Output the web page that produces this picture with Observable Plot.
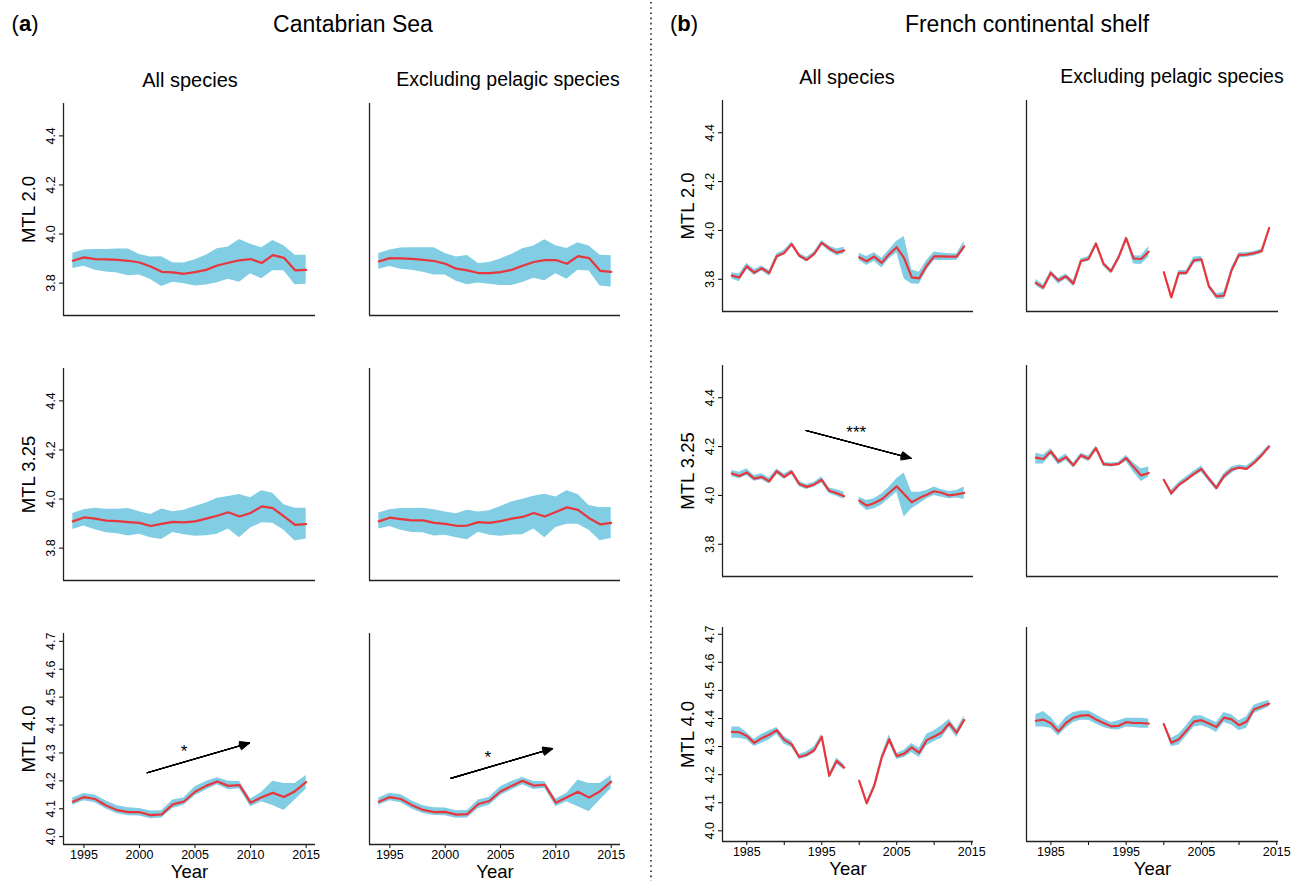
<!DOCTYPE html>
<html><head><meta charset="utf-8">
<script src="https://cdn.jsdelivr.net/npm/d3@7"></script>
<script src="https://cdn.jsdelivr.net/npm/@observablehq/plot@0.6"></script>
<style>
body{margin:0;background:#fff;font-family:"Liberation Sans",Arial,Helvetica,sans-serif;}
#fig{position:relative;width:1298px;height:881px;overflow:hidden;background:#fff;}
.t{position:absolute;white-space:nowrap;color:#000;transform:translate(-50%,-50%);line-height:1;}
.panel{position:absolute;}
</style></head><body><div id="fig"></div>
<script>
// ---------- categories / ticks ----------
const yearsA = [1994,1995,1996,1997,1998,1999,2000,2001,2002,2003,2004,2005,2006,2007,2008,2009,2010,2011,2012,2013,2014,2015];
const yearsB = [1983,1984,1985,1986,1987,1988,1989,1990,1991,1992,1993,1994,1995,1996,1997,1998,1999,2000,2001,2002,2003,2004,2005,2006,2007,2008,2009,2010,2011,2012,2013,2014];
const xTicksA = [1995,2000,2005,2010,2015];
const xTicksB = [1985,1990,1995,2000,2005,2010,2015];
const xLabelsB = [1985,1995,2005,2015];
const yTicksLow = [3.8,4.0,4.2,4.4];
const yTicksHigh = [4.0,4.1,4.2,4.3,4.4,4.5,4.6,4.7];
const rowLabels = ["MTL 2.0","MTL 3.25","MTL 4.0"];

// ---------- (a) Cantabrian Sea ----------
const a_all_20_mid = [3.891,3.905,3.898,3.897,3.895,3.891,3.884,3.868,3.846,3.844,3.838,3.845,3.854,3.872,3.883,3.893,3.898,3.882,3.914,3.903,3.852,3.854];
const a_all_20_hi  = [3.922,3.935,3.937,3.937,3.939,3.939,3.917,3.906,3.907,3.883,3.882,3.895,3.914,3.940,3.947,3.978,3.958,3.944,3.974,3.952,3.914,3.914];
const a_all_20_lo  = [3.860,3.869,3.852,3.845,3.841,3.830,3.833,3.815,3.786,3.804,3.797,3.788,3.792,3.801,3.816,3.804,3.838,3.818,3.850,3.850,3.793,3.795];

const a_exc_20_mid = [3.888,3.902,3.901,3.899,3.895,3.890,3.879,3.859,3.852,3.841,3.841,3.845,3.854,3.871,3.886,3.894,3.894,3.879,3.910,3.902,3.850,3.846];
const a_exc_20_hi  = [3.921,3.935,3.943,3.944,3.944,3.944,3.921,3.906,3.913,3.880,3.884,3.898,3.917,3.940,3.951,3.977,3.952,3.941,3.965,3.951,3.914,3.912];
const a_exc_20_lo  = [3.857,3.868,3.856,3.852,3.844,3.833,3.833,3.808,3.793,3.800,3.795,3.790,3.790,3.803,3.820,3.810,3.838,3.816,3.852,3.849,3.788,3.784];

const a_all_325_mid = [3.909,3.925,3.920,3.912,3.910,3.906,3.903,3.890,3.899,3.907,3.905,3.909,3.920,3.932,3.946,3.929,3.943,3.970,3.963,3.929,3.895,3.898];
const a_all_325_hi  = [3.941,3.956,3.962,3.958,3.958,3.961,3.948,3.937,3.959,3.948,3.954,3.970,3.984,4.003,4.010,4.018,4.005,4.034,4.024,3.977,3.962,3.962];
const a_all_325_lo  = [3.876,3.890,3.875,3.863,3.859,3.849,3.857,3.842,3.835,3.864,3.854,3.848,3.850,3.856,3.878,3.842,3.882,3.903,3.901,3.873,3.829,3.837];

const a_exc_325_mid = [3.909,3.924,3.918,3.913,3.913,3.903,3.899,3.891,3.892,3.906,3.903,3.910,3.920,3.927,3.943,3.929,3.947,3.966,3.956,3.922,3.897,3.903];
const a_exc_325_hi  = [3.943,3.956,3.961,3.961,3.962,3.956,3.947,3.940,3.954,3.947,3.952,3.970,3.988,3.999,4.011,4.020,4.008,4.034,4.018,3.974,3.965,3.966];
const a_exc_325_lo  = [3.878,3.888,3.873,3.864,3.863,3.849,3.852,3.842,3.834,3.865,3.852,3.848,3.853,3.854,3.878,3.842,3.884,3.897,3.897,3.873,3.830,3.839];

const a_all_40_mid = [4.125,4.142,4.135,4.112,4.095,4.088,4.088,4.077,4.080,4.116,4.126,4.161,4.182,4.198,4.182,4.185,4.122,4.141,4.157,4.142,4.163,4.196];
const a_all_40_hi  = [4.139,4.155,4.149,4.128,4.111,4.104,4.101,4.092,4.093,4.131,4.139,4.179,4.198,4.211,4.199,4.198,4.135,4.159,4.199,4.191,4.191,4.219];
const a_all_40_lo  = [4.113,4.129,4.122,4.099,4.082,4.075,4.074,4.064,4.067,4.101,4.113,4.147,4.167,4.186,4.168,4.172,4.107,4.125,4.112,4.094,4.131,4.170];

const a_exc_40_mid = [4.125,4.142,4.135,4.113,4.096,4.088,4.089,4.079,4.081,4.117,4.128,4.162,4.182,4.200,4.183,4.186,4.122,4.141,4.161,4.140,4.163,4.197];
const a_exc_40_hi  = [4.139,4.156,4.150,4.128,4.111,4.104,4.103,4.093,4.094,4.131,4.141,4.179,4.198,4.212,4.198,4.197,4.135,4.156,4.203,4.191,4.191,4.219];
const a_exc_40_lo  = [4.113,4.129,4.122,4.099,4.083,4.076,4.075,4.066,4.067,4.101,4.113,4.148,4.167,4.186,4.169,4.173,4.107,4.125,4.107,4.089,4.131,4.172];

// ---------- (b) French continental shelf (1999 missing) ----------
const b_all_20_mid = [3.815,3.807,3.853,3.827,3.845,3.825,3.894,3.908,3.944,3.897,3.879,3.904,3.949,3.926,3.909,3.918,null,3.890,3.874,3.893,3.867,3.903,3.931,3.886,3.808,3.804,3.856,3.894,3.894,3.893,3.893,3.935];
const b_all_20_hi  = [3.827,3.822,3.866,3.840,3.854,3.837,3.904,3.919,3.953,3.907,3.890,3.913,3.959,3.936,3.924,3.931,null,3.907,3.893,3.909,3.886,3.920,3.956,3.975,3.838,3.829,3.877,3.912,3.908,3.904,3.904,3.956];
const b_all_20_lo  = [3.801,3.790,3.842,3.815,3.834,3.812,3.885,3.899,3.935,3.888,3.872,3.894,3.940,3.915,3.896,3.904,null,3.877,3.856,3.874,3.846,3.883,3.909,3.801,3.781,3.780,3.836,3.877,3.877,3.877,3.877,3.920];

const b_exc_20_mid = [3.785,3.766,3.826,3.795,3.812,3.782,3.875,3.883,3.946,3.863,3.833,3.890,3.968,3.885,3.883,3.913,null,3.829,3.726,3.826,3.826,3.877,3.882,3.771,3.730,3.733,3.836,3.900,3.901,3.907,3.915,4.010];
const b_exc_20_hi  = [3.799,3.778,3.836,3.804,3.822,3.795,3.883,3.893,3.954,3.871,3.841,3.896,3.976,3.896,3.895,3.934,null,3.831,3.733,3.836,3.836,3.891,3.893,3.782,3.741,3.747,3.847,3.909,3.909,3.914,3.923,4.013];
const b_exc_20_lo  = [3.773,3.754,3.815,3.781,3.800,3.770,3.866,3.874,3.936,3.852,3.822,3.878,3.959,3.863,3.860,3.890,null,3.827,3.722,3.815,3.815,3.866,3.871,3.761,3.718,3.718,3.825,3.887,3.890,3.895,3.906,4.008];

const b_all_325_mid = [4.090,4.080,4.094,4.069,4.076,4.058,4.099,4.076,4.097,4.047,4.035,4.045,4.064,4.019,4.009,3.997,null,3.979,3.958,3.969,3.984,4.011,4.037,4.005,3.972,3.989,4.003,4.017,4.011,4.000,4.004,4.010];
const b_all_325_hi  = [4.102,4.095,4.109,4.082,4.089,4.071,4.108,4.088,4.105,4.057,4.045,4.054,4.076,4.030,4.023,4.013,null,3.993,3.979,3.986,4.006,4.034,4.068,4.092,4.013,4.013,4.020,4.034,4.023,4.016,4.020,4.034];
const b_all_325_lo  = [4.076,4.068,4.082,4.058,4.064,4.047,4.088,4.065,4.086,4.036,4.024,4.034,4.051,4.008,3.997,3.983,null,3.965,3.938,3.945,3.961,3.986,4.013,3.912,3.945,3.965,3.986,4.000,3.993,3.986,3.989,3.983];

const b_exc_325_mid = [4.155,4.149,4.180,4.139,4.157,4.123,4.164,4.150,4.194,4.128,4.125,4.129,4.153,4.116,4.082,4.092,null,4.064,4.009,4.043,4.065,4.088,4.109,4.068,4.030,4.079,4.105,4.114,4.109,4.133,4.164,4.200];
const b_exc_325_hi  = [4.173,4.166,4.191,4.150,4.170,4.133,4.173,4.161,4.202,4.136,4.133,4.136,4.164,4.133,4.109,4.116,null,4.068,4.021,4.054,4.076,4.099,4.120,4.079,4.041,4.090,4.116,4.125,4.120,4.144,4.174,4.207];
const b_exc_325_lo  = [4.129,4.129,4.166,4.125,4.143,4.112,4.153,4.139,4.183,4.118,4.116,4.120,4.139,4.095,4.057,4.075,null,4.061,3.997,4.032,4.054,4.077,4.095,4.057,4.020,4.063,4.090,4.110,4.101,4.126,4.154,4.194];

const b_all_40_mid = [4.352,4.351,4.338,4.313,4.330,4.342,4.358,4.324,4.308,4.263,4.271,4.287,4.335,4.196,4.249,4.225,null,4.178,4.098,4.160,4.261,4.326,4.266,4.275,4.297,4.278,4.323,4.336,4.350,4.383,4.349,4.395];
const b_all_40_hi  = [4.370,4.370,4.350,4.325,4.344,4.356,4.368,4.336,4.320,4.272,4.282,4.299,4.344,4.204,4.259,4.235,null,4.184,4.107,4.168,4.270,4.342,4.275,4.287,4.311,4.294,4.344,4.356,4.374,4.397,4.362,4.409];
const b_all_40_lo  = [4.330,4.330,4.323,4.300,4.312,4.323,4.344,4.308,4.297,4.254,4.261,4.276,4.323,4.186,4.237,4.217,null,4.172,4.093,4.152,4.254,4.311,4.254,4.261,4.279,4.261,4.303,4.318,4.330,4.368,4.332,4.386];

const b_exc_40_mid = [4.392,4.396,4.383,4.354,4.384,4.403,4.410,4.412,4.396,4.384,4.372,4.374,4.387,4.384,4.384,4.382,null,4.380,4.314,4.326,4.356,4.389,4.394,4.382,4.370,4.403,4.397,4.376,4.389,4.433,4.443,4.453];
const b_exc_40_hi  = [4.413,4.425,4.404,4.371,4.404,4.421,4.427,4.427,4.413,4.398,4.386,4.392,4.401,4.401,4.401,4.398,null,4.383,4.330,4.344,4.374,4.409,4.410,4.397,4.386,4.421,4.413,4.392,4.406,4.447,4.457,4.465];
const b_exc_40_lo  = [4.370,4.370,4.365,4.338,4.365,4.386,4.394,4.394,4.380,4.368,4.361,4.359,4.370,4.368,4.365,4.365,null,4.377,4.299,4.306,4.337,4.370,4.374,4.365,4.350,4.386,4.377,4.356,4.365,4.418,4.429,4.441];

// ---------- trend arrows and significance ----------
const arrow_a_all_40 = [{x1:2000.7, y1:4.229, x2:2009.9, y2:4.336}];
const star_a_all_40  = [{x:2004.0, y:4.320, s:"*"}];
const arrow_a_exc_40 = [{x1:2000.5, y1:4.209, x2:2009.7, y2:4.316}];
const star_a_exc_40  = [{x:2003.85, y:4.298, s:"*"}];
const arrow_b_all_325 = [{x1:1992.9, y1:4.266, x2:2006.9, y2:4.152}];
const star_b_all_325  = [{x:1999.6, y:4.275, s:"***"}];

// ---------- styling / layout ----------
const BLUE = "#80cde4";
const RED = "#e8363c";
const FONT = "Liberation Sans, Arial, Helvetica, sans-serif";

const xDomA = [1993.16, 2015.84];
const xDomB = [1981.76, 2015.24];
const yDomLow = [3.668, 4.532];
const yDomHighA = [3.972, 4.728];
const yDomHighB = [3.962, 4.724];

const colsA = [[63,315],[369,620]];
const colsB = [[722,973],[1026,1278]];
const rowsA = [[103,315],[368,580],[633,844]];
const rowsB = [[100,311],[365,576],[627,841]];

function rows(years, mid, lo, hi) {
  return years.map((year, i) => ({year, mid: mid[i], lo: lo[i], hi: hi[i]}));
}

const panels = [
  {side:"a", col:0, row:0, years:yearsA, mid:a_all_20_mid, lo:a_all_20_lo, hi:a_all_20_hi},
  {side:"a", col:1, row:0, years:yearsA, mid:a_exc_20_mid, lo:a_exc_20_lo, hi:a_exc_20_hi},
  {side:"a", col:0, row:1, years:yearsA, mid:a_all_325_mid, lo:a_all_325_lo, hi:a_all_325_hi},
  {side:"a", col:1, row:1, years:yearsA, mid:a_exc_325_mid, lo:a_exc_325_lo, hi:a_exc_325_hi},
  {side:"a", col:0, row:2, years:yearsA, mid:a_all_40_mid, lo:a_all_40_lo, hi:a_all_40_hi, arrow:arrow_a_all_40, star:star_a_all_40},
  {side:"a", col:1, row:2, years:yearsA, mid:a_exc_40_mid, lo:a_exc_40_lo, hi:a_exc_40_hi, arrow:arrow_a_exc_40, star:star_a_exc_40},
  {side:"b", col:0, row:0, years:yearsB, mid:b_all_20_mid, lo:b_all_20_lo, hi:b_all_20_hi},
  {side:"b", col:1, row:0, years:yearsB, mid:b_exc_20_mid, lo:b_exc_20_lo, hi:b_exc_20_hi},
  {side:"b", col:0, row:1, years:yearsB, mid:b_all_325_mid, lo:b_all_325_lo, hi:b_all_325_hi, arrow:arrow_b_all_325, star:star_b_all_325},
  {side:"b", col:1, row:1, years:yearsB, mid:b_exc_325_mid, lo:b_exc_325_lo, hi:b_exc_325_hi},
  {side:"b", col:0, row:2, years:yearsB, mid:b_all_40_mid, lo:b_all_40_lo, hi:b_all_40_hi},
  {side:"b", col:1, row:2, years:yearsB, mid:b_exc_40_mid, lo:b_exc_40_lo, hi:b_exc_40_hi}
];

const fig = document.getElementById("fig");

function addText(html, x, y, size) {
  const d = document.createElement("div");
  d.className = "t";
  d.style.left = x + "px";
  d.style.top = y + "px";
  d.style.fontSize = size + "px";
  d.innerHTML = html;
  fig.appendChild(d);
}

// separator
const sepNS = "http://www.w3.org/2000/svg";
const sep = document.createElementNS(sepNS, "svg");
sep.setAttribute("width", 6); sep.setAttribute("height", 881);
sep.style.position = "absolute"; sep.style.left = "648px"; sep.style.top = "0px";
const ln = document.createElementNS(sepNS, "line");
ln.setAttribute("x1", 3); ln.setAttribute("x2", 3); ln.setAttribute("y1", 2); ln.setAttribute("y2", 881);
ln.setAttribute("stroke", "#222"); ln.setAttribute("stroke-width", 1.6);
ln.setAttribute("stroke-dasharray", "1.6 3.6");
sep.appendChild(ln);
fig.appendChild(sep);

// titles
addText("(<b>a</b>)", 25, 24, 22);
addText("Cantabrian Sea", 353, 24, 23);
addText("(<b>b</b>)", 684, 24, 22);
addText("French continental shelf", 1027, 24, 23);
addText("All species", 190, 80, 20);
addText("Excluding pelagic species", 508, 80, 19.5);
addText("All species", 847, 77, 20);
addText("Excluding pelagic species", 1172, 77, 19.5);

for (const p of panels) {
  const [L, R] = (p.side === "a" ? colsA : colsB)[p.col];
  const [T, B] = (p.side === "a" ? rowsA : rowsB)[p.row];
  const bottomRow = p.row === 2;
  const mL = p.col === 0 ? 75 : 20, mR = 15, mT = 10, mB = bottomRow ? 50 : 10;
  const xDom = p.side === "a" ? xDomA : xDomB;
  const yDom = bottomRow ? (p.side === "a" ? yDomHighA : yDomHighB) : yDomLow;
  const yTicks = bottomRow ? yTicksHigh : yTicksLow;
  const data = rows(p.years, p.mid, p.lo, p.hi);

  const marks = [
    Plot.areaY(data, {x: "year", y1: "lo", y2: "hi", fill: BLUE, fillOpacity: 1}),
    Plot.lineY(data, {x: "year", y: "mid", stroke: RED, strokeWidth: 2.2, strokeLinejoin: "round"}),
    Plot.ruleX([xDom[0]], {stroke: "#222", strokeWidth: 1.3}),
    Plot.ruleY([yDom[0]], {stroke: "#222", strokeWidth: 1.3})
  ];
  if (p.col === 0) {
    marks.push(Plot.text([rowLabels[p.row]], {frameAnchor: "left", dx: -34, rotate: -90, fontSize: 18.5, fill: "#000", textAnchor: "middle", lineAnchor: "middle"}));
  }
  if (bottomRow) {
    marks.push(Plot.text(["Year"], {frameAnchor: "bottom", dy: 28, fontSize: 18.5, fill: "#000", textAnchor: "middle", lineAnchor: "middle"}));
  }
  if (p.arrow) {
    for (const ang of [8, 16, 24, 32, 40, 48]) {
      marks.push(Plot.arrow(p.arrow, {x1: "x1", y1: "y1", x2: "x2", y2: "y2", stroke: "#000", strokeWidth: 1.1, headLength: 14, headAngle: ang}));
    }
    marks.push(Plot.text(p.star, {x: "x", y: "y", text: "s", fontSize: 17, dy: 4, fill: "#000"}));
  }

  const chart = Plot.plot({
    width: R - L + mL + mR,
    height: B - T + mT + mB,
    marginLeft: mL, marginRight: mR, marginTop: mT, marginBottom: mB,
    style: {background: "transparent", fontFamily: FONT, fontSize: "12.5px", color: "#000", overflow: "visible"},
    x: bottomRow ? {
      domain: xDom,
      ticks: p.side === "a" ? xTicksA : xTicksB,
      tickFormat: d => (p.side === "a" || xLabelsB.includes(d)) ? String(d) : "",
      tickSize: 4, tickPadding: 2, label: null
    } : {domain: xDom, axis: null},
    y: p.col === 0 ? {
      domain: yDom, ticks: yTicks, tickFormat: d3.format(".1f"),
      tickRotate: -90, tickSize: 4, label: null
    } : {domain: yDom, axis: null},
    marks
  });
  chart.classList.add("panel");
  chart.style.left = (L - mL) + "px";
  chart.style.top = (T - mT) + "px";
  chart.style.position = "absolute";
  chart.style.maxWidth = "none";
  fig.appendChild(chart);
}
</script>
</body></html>
